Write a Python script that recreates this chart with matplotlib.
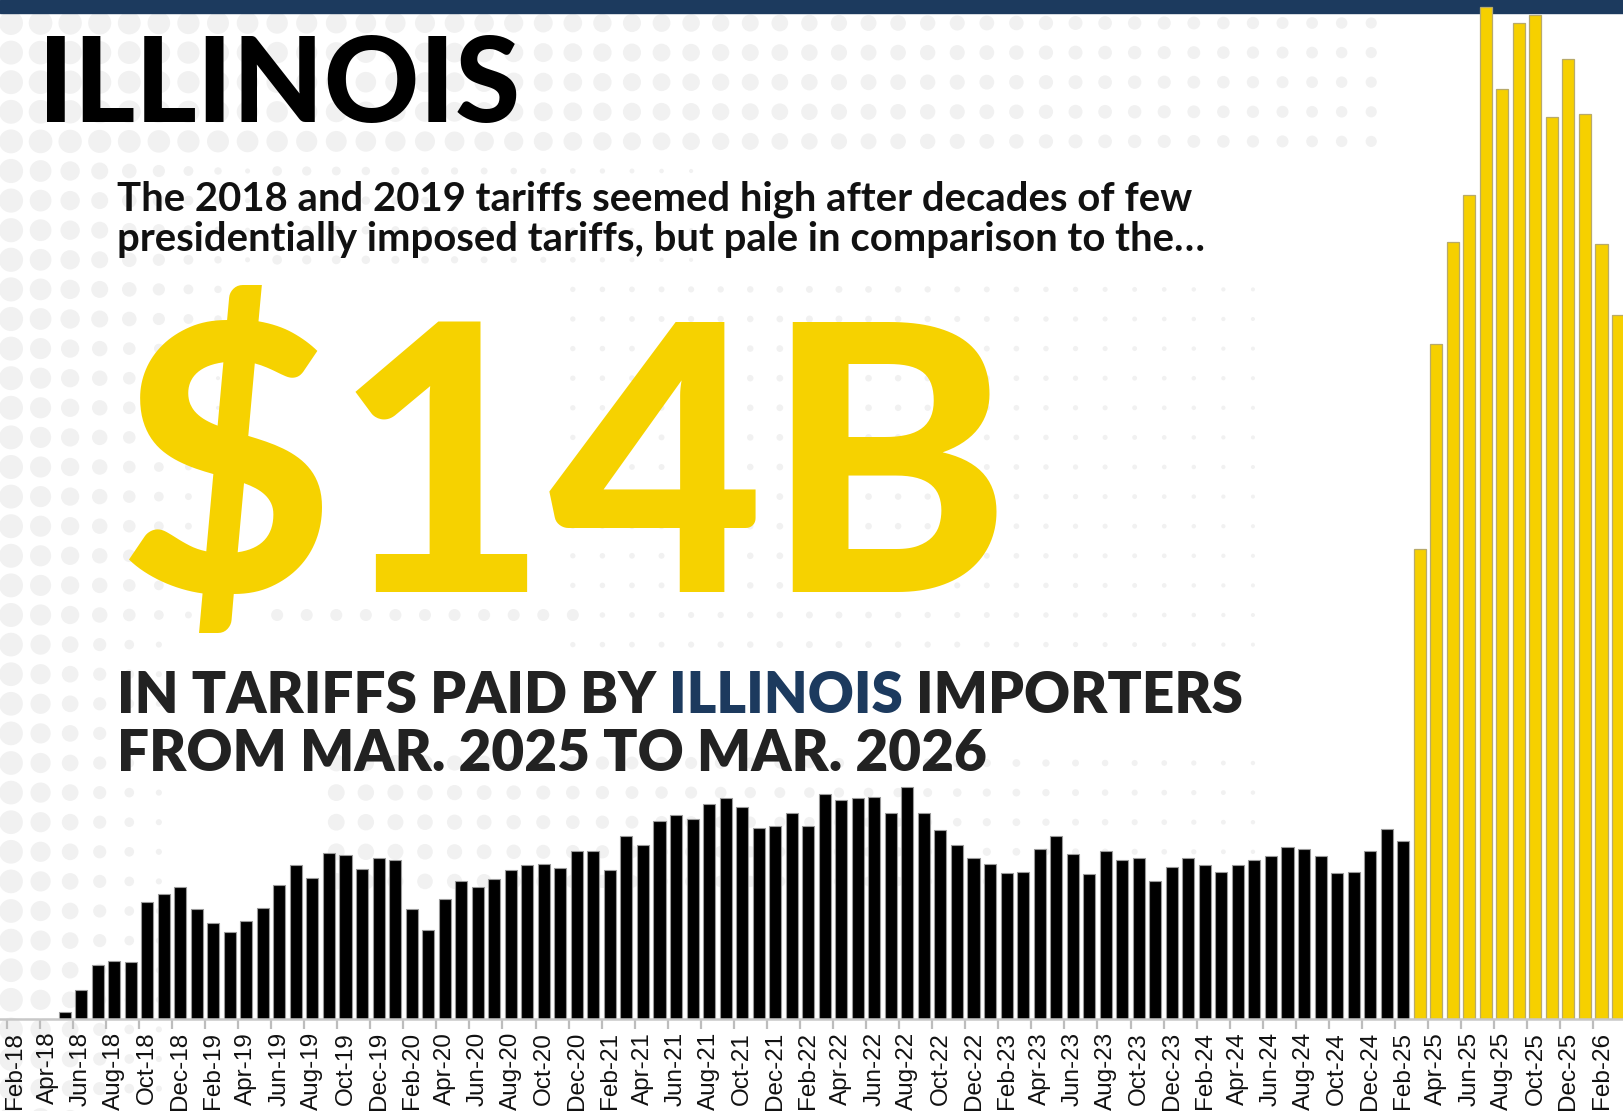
import matplotlib.pyplot as plt
from matplotlib.patches import Rectangle
import numpy as np

# months Feb-18 .. Mar-26
mon = ['Jan', 'Feb', 'Mar', 'Apr', 'May', 'Jun', 'Jul', 'Aug', 'Sep', 'Oct', 'Nov', 'Dec']
months = []
for yy in range(18, 27):
    for m in range(12):
        months.append(mon[m] + '-' + str(yy))
months = months[1:months.index('Mar-26') + 1]

# tariffs paid, $ millions
before = [0, 0, 0, 9, 38, 70, 75, 73, 150, 160, 169, 141,
          123, 112, 126, 143, 172, 198, 181, 213, 210, 192, 206, 204,
          141, 114, 154, 177, 170, 179, 191, 198, 199, 194, 216, 215,
          191, 235, 223, 254, 261, 257, 276, 283, 272, 245, 247, 264,
          248, 288, 281, 283, 284, 264, 297, 264, 242, 223, 206, 199,
          187, 189, 218, 235, 211, 186, 216, 204, 207, 177, 195, 206,
          197, 189, 197, 204, 209, 221, 218, 209, 187, 189, 216, 243,
          228]
after = [602, 864, 995, 1055, 1296, 1191, 1275, 1286, 1155, 1230, 1159, 992, 902]

W, H = 1623, 1111
fig = plt.figure(figsize=(W / 100, H / 100), dpi=100)

# background: halftone dots + navy band
bg = fig.add_axes([0, 0, 1, 1])
bg.set_xlim(0, W)
bg.set_ylim(H, 0)
bg.axis('off')

dx, dy, dd = [], [], []
for i in range(56):
    for j in range(38):
        x = 11 + 29.57 * i
        y = 23 + 29.6 * j
        d = 0
        if y < 150 and x < 1390:
            d = 24 - 13 * x / 1390
        if y >= 150:
            reach = 310 if y < 340 else (260 if y < 640 else 210)
            d = max(d, 25 * (1 - x / reach))
        if 150 <= y < 260 and 250 < x < 700:
            d = max(d, 10 - 6 * (x - 250) / 450)
        if 260 <= y < 660 and 560 < x < 1260:
            d = max(d, 7 - 3 * abs(x - 820) / 440)
        if 600 <= y < 640 and 260 < x < 600:
            d = max(d, 12)
        if 760 <= y < 910 and 320 < x < 1000:
            d = max(d, 17 - 9 * (x - 320) / 680)
        if 740 <= y < 860 and 1000 <= x < 1280:
            d = max(d, 8 - 4 * (x - 1000) / 280)
        if d > 3:
            dx.append(x)
            dy.append(y)
            dd.append((d * 0.72) ** 2)
bg.scatter(dx, dy, s=dd, color='#f1f1f1', linewidths=0, zorder=1)
bg.add_patch(Rectangle((0, 0), W, 13, color='#1c3a5e', zorder=2))

# bar chart
ax = fig.add_axes([0, 91.7 / H, 1, 1019.3 / H])
ax.patch.set_alpha(0)
x = np.arange(len(months))
n = len(before)
ax.bar(x[:n], before, width=0.73, color='black', edgecolor='#9a9a9a', linewidth=0.8)
ax.bar(x[n:], after, width=0.73, color='#f6d000', edgecolor='#b8aa6a', linewidth=0.9)
ax.set_xlim(-0.905, 97.3)
ax.set_ylim(0, 1305)
for s in ['top', 'left', 'right']:
    ax.spines[s].set_visible(False)
ax.spines['bottom'].set_color('#c8c8c8')
ax.spines['bottom'].set_linewidth(1.8)
ax.set_yticks([])
ax.set_xticks(x[::2])
ax.set_xticklabels(months[::2], rotation=90, fontsize=17.5, color='#111111',
                   family='Liberation Sans')
ax.set_xticks(x[::2] - 0.5, minor=True)
ax.tick_params(axis='x', which='major', length=0, pad=9)
ax.tick_params(axis='x', which='minor', length=7, width=1.6, color='#bdbdbd')

# headline texts
r = fig.canvas.get_renderer()


def put(px, py, s, **kw):
    return fig.text(px / W, 1 - py / H, s, va='baseline', ha='left', **kw)


def fit(t, w):
    bb = t.get_window_extent(r)
    t.set_fontsize(t.get_fontsize() * w / bb.width)


t = put(38, 122, 'ILLINOIS', family='Lato', weight='black', color='black', fontsize=80)
fit(t, 482)

s1 = put(117, 210, 'The 2018 and 2019 tariffs seemed high after decades of few',
         family='Lato', weight='bold', color='#111111', fontsize=24)
fit(s1, 1075)
s2 = put(117, 251, 'presidentially imposed tariffs, but pale in comparison to the\u2026',
         family='Lato', weight='bold', color='#111111', fontsize=s1.get_fontsize())

big = put(118, 592, '$14B', family='Lato', weight='black', color='#f6d200', fontsize=200)
fit(big, 893)

# "IN TARIFFS PAID BY ILLINOIS IMPORTERS" with the state name in navy
kw = dict(family='Lato', weight='heavy', fontsize=36)
full = put(117, 713, 'IN TARIFFS PAID BY ILLINOIS IMPORTERS', color='#222222', **kw)
fit(full, 1124)
fs = full.get_fontsize()
full.remove()
kw['fontsize'] = fs


def wid(s):
    tt = fig.text(0, 0, s, **kw)
    w = tt.get_window_extent(r).width
    tt.remove()
    return w


xa = 117
put(xa, 713, 'IN TARIFFS PAID BY', color='#222222', **kw)
xb = xa + wid('IN TARIFFS PAID BY X') - wid('X')
put(xb, 713, 'ILLINOIS', color='#1c3a5e', **kw)
xc = xa + wid('IN TARIFFS PAID BY ILLINOIS X') - wid('X')
put(xc, 713, 'IMPORTERS', color='#222222', **kw)
put(xa, 771, 'FROM MAR. 2025 TO MAR. 2026', color='#222222', **kw)

fig.savefig('out.png', dpi=100)
